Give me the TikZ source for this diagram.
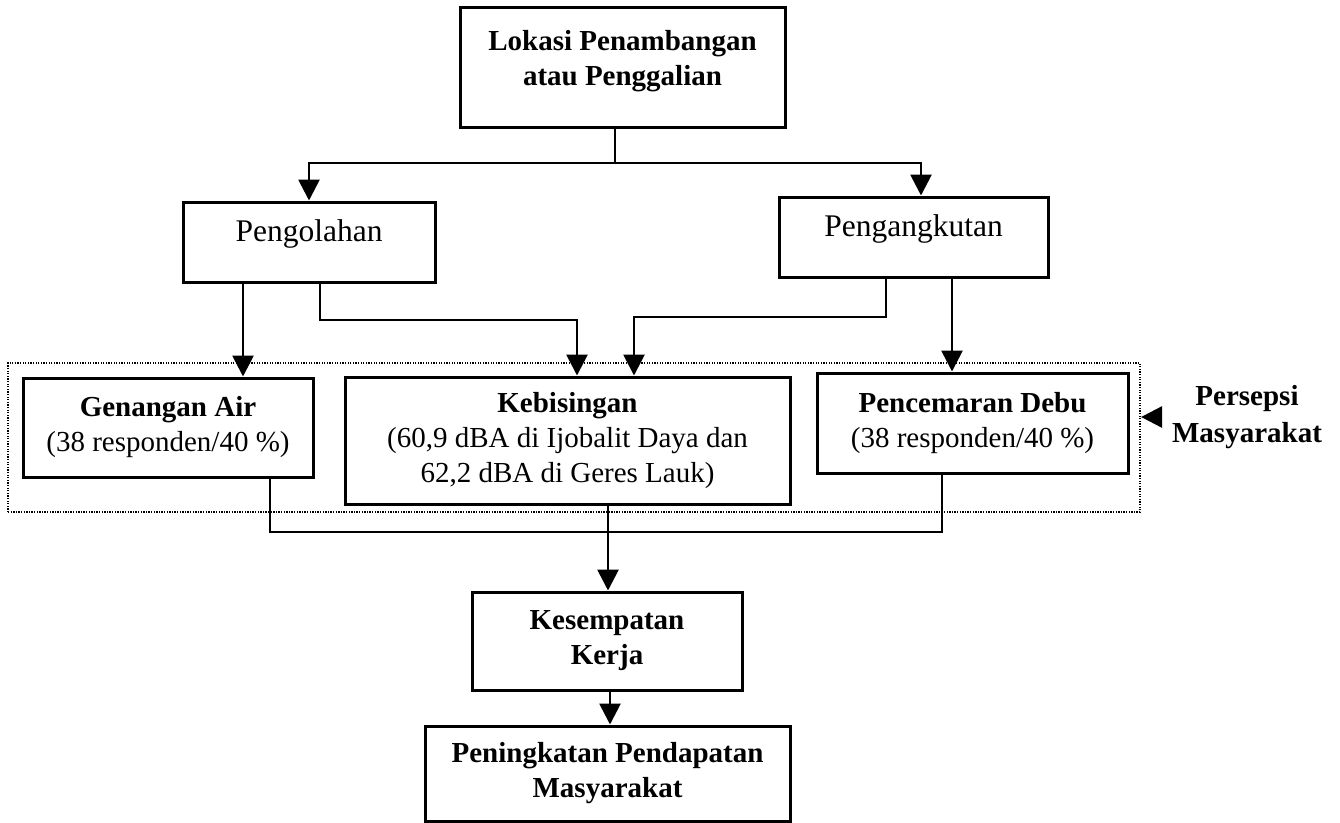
\documentclass[tikz,border=0pt]{standalone}
\usepackage{fontspec}
\setmainfont{Liberation Serif}
\usetikzlibrary{arrows.meta}
\newcommand\dfont{\fontsize{29}{35}\selectfont}
\newcommand\pfont{\fontsize{31.5}{37}\selectfont}
\begin{document}
\begin{tikzpicture}[x=1pt,y=-1pt,
  box/.style={draw, line width=3pt, inner sep=0pt, align=center, font=\dfont},
  conn/.style={line width=2.8pt, line join=miter},
  arr/.style={conn, -{Triangle[width=21pt,length=21pt]}},
  dotbox/.style={draw, line width=2.2pt, dash pattern=on 1.3pt off 1.3pt, inner sep=0pt}
]
\useasboundingbox (0,0) rectangle (1340,822);
\fill[white] (0,0) rectangle (1340,822);

% boxes
\node[box, minimum width=325pt, minimum height=120pt, text depth=18pt] (top) at (622.5,67)
  {\textbf{Lokasi Penambangan}\\\textbf{atau Penggalian}};
\node[box, font=\pfont, minimum width=252pt, minimum height=80pt, text height=22pt, text depth=23pt] (pengolahan) at (309,242) {Pengolahan};
\node[box, font=\pfont, minimum width=269pt, minimum height=80pt, text height=22pt, text depth=23pt] (pengangkutan) at (913.5,237) {Pengangkutan};
\node[dotbox, minimum width=1132pt, minimum height=149pt] (dotted) at (574,437.5) {};
\node[box, minimum width=290pt, minimum height=99pt] (genangan) at (168,427.5)
  {\textbf{Genangan Air}\\(38 responden/40 \%)};
\node[box, minimum width=445pt, minimum height=127pt] (kebisingan) at (567.5,440.5)
  {\textbf{Kebisingan}\\(60,9 dBA di Ijobalit Daya dan\\62,2 dBA di Geres Lauk)};
\node[box, minimum width=311pt, minimum height=100pt] (pencemaran) at (972.5,423)
  {\textbf{Pencemaran Debu}\\(38 responden/40 \%)};
\node[box, minimum width=270pt, minimum height=98pt] (kesempatan) at (607,641)
  {\textbf{Kesempatan}\\\textbf{Kerja}};
\node[box, minimum width=365pt, minimum height=95pt] (peningkatan) at (607.5,773.5)
  {\textbf{Peningkatan Pendapatan}\\\textbf{Masyarakat}};
\node[align=center, inner sep=0pt, font=\fontsize{29}{37}\selectfont\bfseries] (persepsi) at (1247,417)
  {Persepsi\\Masyarakat};

% column / row helpers
\coordinate (cA) at (243,0);
\coordinate (cB) at (320,0);
\coordinate (cC) at (577,0);
\coordinate (cD) at (634,0);
\coordinate (cE) at (886,0);
\coordinate (cF) at (952,0);
\coordinate (cG) at (270,0);
\coordinate (cH) at (942,0);
\coordinate (cI) at (608,0);
\coordinate (cJ) at (610,0);
\coordinate (cK) at (615,0);
\coordinate (cL) at (921,0);
\coordinate (rA) at (0,163);
\coordinate (rB) at (0,320);
\coordinate (rC) at (0,317);
\coordinate (rD) at (0,532);

% connectors
\draw[conn] (top.south -| cK) -- (cK |- rA);
\draw[arr] (cK |- rA) -| (pengolahan.north);
\draw[arr] (cK |- rA) -| (pengangkutan.north -| cL);
\draw[arr] (pengolahan.south -| cA) -- (genangan.north -| cA);
\draw[arr] (pengolahan.south -| cB) |- (cC |- rB) -- (kebisingan.north -| cC);
\draw[arr] (pengangkutan.south -| cE) |- (cD |- rC) -- (kebisingan.north -| cD);
\draw[arr] (pengangkutan.south -| cF) -- (pencemaran.north -| cF);
\draw[conn] (genangan.south -| cG) |- (cH |- rD) -- (pencemaran.south -| cH);
\draw[arr] (kebisingan.south -| cI) -- (kesempatan.north -| cI);
\draw[arr] (kesempatan.south -| cJ) -- (peningkatan.north -| cJ);
\draw[arr, shorten <=15pt] (persepsi.west) -- (persepsi.west -| dotted.east);
\end{tikzpicture}
\end{document}
